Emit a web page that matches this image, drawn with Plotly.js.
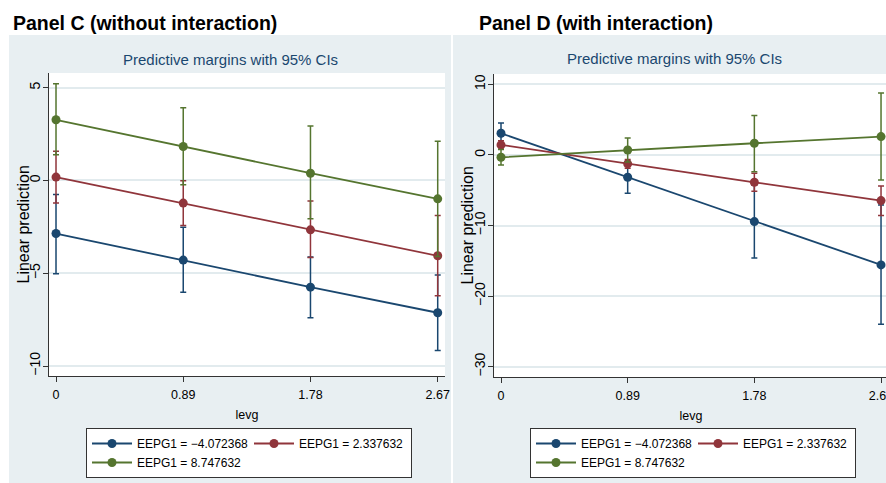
<!DOCTYPE html>
<html>
<head>
<meta charset="utf-8">
<script src="https://cdn.plot.ly/plotly-3.0.1.min.js"></script>
<style>
html,body{margin:0;padding:0;background:#ffffff;overflow:hidden;width:886px;height:483px;}
#c{position:absolute;left:0;top:0;width:451px;height:483px;}
#d{position:absolute;left:451px;top:0;width:440px;height:483px;}
</style>
</head>
<body>
<div id="c"></div>
<div id="d"></div>
<script>
// ---------- data ----------
const levg = [0, 0.89, 1.78, 2.67];
const levgTickText = ["0", "0.89", "1.78", "2.67"];
const seriesNames = ["EEPG1 = \u22124.072368", "EEPG1 = 2.337632", "EEPG1 = 8.747632"];

// Panel C (without interaction)
const cLowMean = [-2.86, -4.29, -5.75, -7.13];
const cLowLo   = [-5.03, -6.02, -7.40, -9.16];
const cLowHi   = [-0.75, -2.52, -4.12, -5.10];
const cMidMean = [0.18, -1.22, -2.66, -4.06];
const cMidLo   = [-1.22, -2.43, -4.15, -6.22];
const cMidHi   = [1.58, -0.02, -1.11, -1.89];
const cHighMean = [3.27, 1.83, 0.39, -0.99];
const cHighLo   = [1.38, -0.23, -2.07, -4.10];
const cHighHi   = [5.21, 3.92, 2.93, 2.12];
const cYTicks = [-10, -5, 0, 5];

// Panel D (with interaction)
const dLowMean = [3.06, -3.17, -9.45, -15.58];
const dLowLo   = [1.60, -5.44, -14.60, -24.00];
const dLowHi   = [4.53, -0.90, -4.30, -7.10];
const dMidMean = [1.42, -1.27, -3.88, -6.47];
const dMidLo   = [0.85, -1.90, -5.15, -8.60];
const dMidHi   = [2.00, -0.65, -2.60, -4.40];
const dHighMean = [-0.34, 0.70, 1.65, 2.59];
const dHighLo   = [-1.42, -1.00, -2.37, -3.54];
const dHighHi   = [0.75, 2.41, 5.57, 8.78];
const dYTicks = [-30, -20, -10, 0, 10];

// ---------- style ----------
const colors = ["#1a476f", "#90353b", "#55752f"];
const FONT = '"Liberation Sans", Arial, sans-serif';
const BG = "#e8eff2";
const GRID = "#e2ebee";

function mkTrace(name, color, mean, lo, hi) {
  return {
    type: "scatter", mode: "lines+markers", name: name,
    x: levg, y: mean,
    line: {color: color, width: 1.8},
    marker: {color: color, size: 9, symbol: "circle"},
    error_y: {type: "data", symmetric: false,
      array: hi.map((v, i) => v - mean[i]),
      arrayminus: mean.map((v, i) => v - lo[i]),
      color: color, thickness: 1.5, width: 3},
    hoverinfo: "x+y"
  };
}

function mkLayout(o) {
  const pw = o.W - o.l - o.r, ph = o.H - o.t - o.b;
  const px = v => (v - o.offset - o.l) / pw;
  const py = v => (o.H - o.b - v) / ph;
  return {
    width: o.W, height: o.H,
    margin: {l: o.l, r: o.r, t: o.t, b: o.b, pad: 0, autoexpand: false},
    paper_bgcolor: "#ffffff", plot_bgcolor: "rgba(0,0,0,0)",
    showlegend: true,
    font: {family: FONT, size: 12, color: "#000000"},
    shapes: [
      {type: "rect", xref: "paper", yref: "paper", layer: "below",
       x0: px(o.bgx0), x1: px(o.bgx1), y0: py(o.H + 5), y1: py(35),
       fillcolor: BG, line: {width: 0}},
      {type: "rect", xref: "paper", yref: "paper", layer: "below",
       x0: 0, x1: 1, y0: 0, y1: 1, fillcolor: "#ffffff", line: {width: 0}}
    ],
    annotations: [
      {text: o.titleText, xref: "paper", yref: "paper", x: px(o.titleX), y: py(23),
       xanchor: "left", yanchor: "middle", showarrow: false,
       font: {family: FONT, size: 19.5, color: "#000000", weight: "bold"}},
      {text: "Predictive margins with 95% CIs", xref: "paper", yref: "paper",
       x: px(o.subX), y: py(59), xanchor: "center", yanchor: "middle", showarrow: false,
       font: {family: FONT, size: 15, color: "#1a476f"}},
      {text: "Linear prediction", xref: "paper", yref: "paper",
       x: px(o.yTitleX), y: 0.5, xanchor: "center", yanchor: "middle", textangle: -90,
       showarrow: false, font: {family: FONT, size: 16, color: "#000000"}}
    ],
    xaxis: {
      range: o.xRange, tickmode: "array", tickvals: levg, ticktext: levgTickText,
      ticks: "outside", ticklen: 5, tickwidth: 1, tickcolor: "#333333",
      ticklabeloverflow: "allow", ticklabelstandoff: 2,
      showline: true, linecolor: "#333333", linewidth: 1.2,
      showgrid: false, zeroline: false,
      tickfont: {family: FONT, size: 12.5, color: "#000000"},
      title: {text: "levg", font: {family: FONT, size: 12.5, color: "#000000"}, standoff: 9}
    },
    yaxis: {
      range: o.yRange, tickmode: "array", tickvals: o.yTicks,
      ticks: "outside", ticklen: 5, tickwidth: 1, tickcolor: "#333333",
      tickangle: -90, ticklabelstandoff: -3, ticklabeloverflow: "allow",
      showline: true, linecolor: "#333333", linewidth: 1.2,
      showgrid: true, gridcolor: GRID, gridwidth: 1.5, zeroline: false,
      tickfont: {family: FONT, size: 14, color: "#000000"}
    },
    legend: {
      orientation: "h", x: px(o.legX), y: py(428), xanchor: "left", yanchor: "top",
      bgcolor: "#ffffff", bordercolor: "#333333", borderwidth: 1,
      font: {family: FONT, size: 12, color: "#000000"},
      itemwidth: 40, entrywidth: 107, traceorder: "normal", itemclick: false, itemdoubleclick: false
    },
    hovermode: "closest"
  };
}

const cTraces = [
  mkTrace(seriesNames[0], colors[0], cLowMean, cLowLo, cLowHi),
  mkTrace(seriesNames[1], colors[1], cMidMean, cMidLo, cMidHi),
  mkTrace(seriesNames[2], colors[2], cHighMean, cHighLo, cHighHi)
];
const dTraces = [
  mkTrace(seriesNames[0], colors[0], dLowMean, dLowLo, dLowHi),
  mkTrace(seriesNames[1], colors[1], dMidMean, dMidLo, dMidHi),
  mkTrace(seriesNames[2], colors[2], dHighMean, dHighLo, dHighHi)
];

const cLayout = mkLayout({W: 451, H: 483, l: 49, r: 6, t: 73, b: 107, offset: 0,
  bgx0: 9, bgx1: 451, titleText: "Panel C (without interaction)", titleX: 11, subX: 230,
  yTitleX: 23,
  xRange: [-0.049, 2.721], yRange: [-10.539, 5.792], yTicks: cYTicks, legX: 86});
const dLayout = mkLayout({W: 440, H: 483, l: 43, r: 3, t: 74, b: 106, offset: 451,
  bgx0: 453, bgx1: 900, titleText: "Panel D (with interaction)", titleX: 477, subX: 674,
  yTitleX: 467,
  xRange: [-0.0492, 2.719], yRange: [-31.459, 11.459], yTicks: dYTicks, legX: 530});

const cfg = {displayModeBar: false};
Plotly.newPlot("c", cTraces, cLayout, cfg);
Plotly.newPlot("d", dTraces, dLayout, cfg);
</script>
</body>
</html>
